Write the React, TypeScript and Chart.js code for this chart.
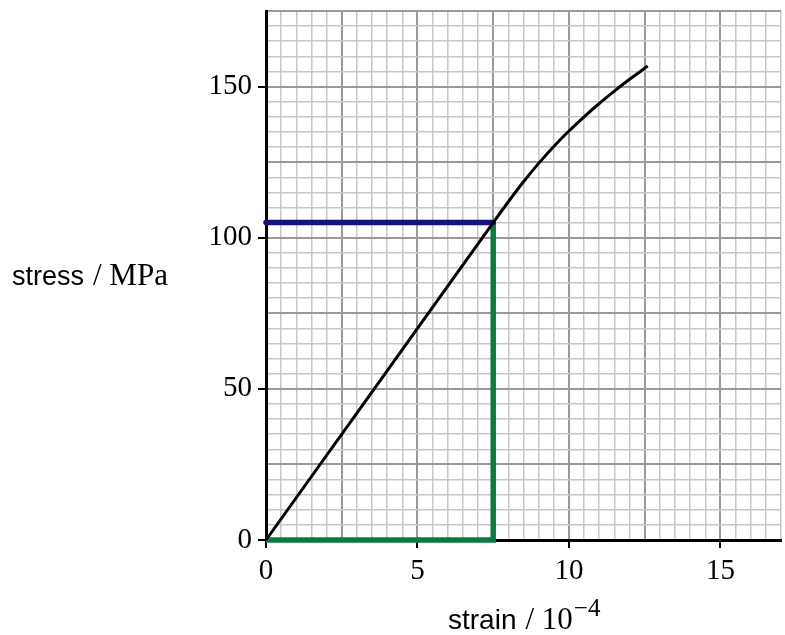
import React, { useEffect, useRef } from "react";
import { Chart, registerables } from "chart.js";

Chart.register(...registerables);

const strain = [0, 3.75, 7.5, 8, 8.5, 9, 9.5, 10, 10.5, 11, 11.5, 12, 12.6];
const stress = [0, 52.5, 105, 111.9, 118.5, 124.6, 130.2, 135.3, 140, 144.4, 148.5, 152.4, 156.8];
const readStress = 105;
const readStrain = 7.5;
const xTickLabels = [0, 5, 10, 15];
const yTickLabels = [0, 50, 100, 150];

const SERIF = "'Liberation Serif', 'Times New Roman', serif";
const SANS = "'Liberation Sans', Arial, sans-serif";

const near = (v: number, arr: number[]) => arr.some((a) => Math.abs(a - v) < 1e-6);
const isMult = (v: number, m: number) => Math.abs(v / m - Math.round(v / m)) < 1e-6;

const titlePlugin = {
  id: "titles",
  afterDraw(chart: any) {
    const ctx = chart.ctx as CanvasRenderingContext2D;
    ctx.save();
    ctx.fillStyle = "#000";
    ctx.textBaseline = "alphabetic";
    ctx.textAlign = "left";
    // y title
    let x = 12;
    const yb = 285;
    ctx.font = `27px ${SANS}`;
    ctx.fillText("stress", x, yb);
    x += ctx.measureText("stress").width + 9;
    ctx.font = `31px ${SERIF}`;
    ctx.fillText("/ MPa", x, yb);
    // x title
    x = 448;
    const xb = 629;
    ctx.font = `28px ${SANS}`;
    ctx.fillText("strain", x, xb);
    x += ctx.measureText("strain").width + 9;
    ctx.font = `31px ${SERIF}`;
    ctx.fillText("/ 10", x, xb);
    x += ctx.measureText("/ 10").width + 1;
    ctx.font = `25px ${SERIF}`;
    ctx.fillText("\u22124", x, xb - 13);
    ctx.restore();
  },
};

export default function App() {
  const ref = useRef<HTMLCanvasElement>(null);
  useEffect(() => {
    document.body.style.margin = "0";
    const gridColor = (ctx: any, major: number) =>
      isMult(ctx.tick.value, major) ? "#9a9a9a" : "#c8c8c8";
    const gridWidth = (ctx: any, major: number) => (isMult(ctx.tick.value, major) ? 2 : 1.5);
    const chart = new Chart(ref.current!, {
      type: "line",
      data: {
        datasets: [
          {
            data: strain.map((s, i) => ({ x: s, y: stress[i] })),
            borderColor: "#000",
            borderWidth: 3,
            pointRadius: 0,
            cubicInterpolationMode: "monotone",
            fill: false,
            order: 0,
            clip: false,
          },
          {
            data: [
              { x: 0, y: readStress },
              { x: readStrain, y: readStress },
            ],
            borderColor: "#16127c",
            borderWidth: 5.5,
            borderCapStyle: "round",
            pointRadius: 0,
            fill: false,
            order: 1,
            clip: false,
          },
          {
            data: [
              { x: 0, y: 0 },
              { x: readStrain, y: 0 },
              { x: readStrain, y: readStress },
            ],
            borderColor: "#0b7a40",
            borderWidth: 5.5,
            borderJoinStyle: "miter",
            pointRadius: 0,
            fill: false,
            order: 2,
            clip: false,
          },
        ],
      },
      options: {
        animation: false,
        responsive: false,
        maintainAspectRatio: false,
        layout: { padding: { top: 11, right: 4, left: 0, bottom: 0 } },
        plugins: { legend: { display: false }, tooltip: { enabled: false } },
        scales: {
          x: {
            type: "linear",
            min: 0,
            max: 17,
            afterFit: (s: any) => {
              s.height = 95;
              s.paddingLeft = 0;
              s.paddingRight = 0;
            },
            afterBuildTicks: (s: any) => {
              const t = [];
              for (let i = 0; i <= 34; i++) t.push({ value: i * 0.5 });
              s.ticks = t;
            },
            ticks: {
              autoSkip: false,
              maxRotation: 0,
              padding: 6,
              color: "#000",
              font: { family: SERIF, size: 29 },
              callback: (v: any) => (near(Number(v), xTickLabels) ? String(Number(v)) : ""),
            },
            grid: {
              color: (c: any) => gridColor(c, 2.5),
              lineWidth: (c: any) => gridWidth(c, 2.5),
              drawTicks: true,
              tickLength: 8,
              tickColor: (c: any) => (c.tick && near(c.tick.value, xTickLabels) ? "#000" : "rgba(0,0,0,0)"),
              tickWidth: 2,
            },
            border: { color: "#000", width: 3 },
          },
          y: {
            type: "linear",
            min: 0,
            max: 175,
            afterFit: (s: any) => {
              s.width = 266;
              s.paddingTop = 0;
              s.paddingBottom = 0;
            },
            afterBuildTicks: (s: any) => {
              const t = [];
              for (let i = 0; i <= 35; i++) t.push({ value: i * 5 });
              s.ticks = t;
            },
            ticks: {
              autoSkip: false,
              padding: 6,
              color: "#000",
              font: { family: SERIF, size: 29 },
              callback: (v: any) => (near(Number(v), yTickLabels) ? String(Number(v)) : ""),
            },
            grid: {
              color: (c: any) => gridColor(c, 25),
              lineWidth: (c: any) => gridWidth(c, 25),
              drawTicks: true,
              tickLength: 8,
              tickColor: (c: any) => (c.tick && near(c.tick.value, yTickLabels) ? "#000" : "rgba(0,0,0,0)"),
              tickWidth: 2,
            },
            border: { color: "#000", width: 3 },
          },
        },
      },
      plugins: [titlePlugin],
    } as any);
    return () => chart.destroy();
  }, []);
  return (
    <div style={{ position: "absolute", left: 0, top: 0, width: 785, height: 635, background: "#fff" }}>
      <canvas ref={ref} width={785} height={635} style={{ width: 785, height: 635, display: "block" }} />
    </div>
  );
}
